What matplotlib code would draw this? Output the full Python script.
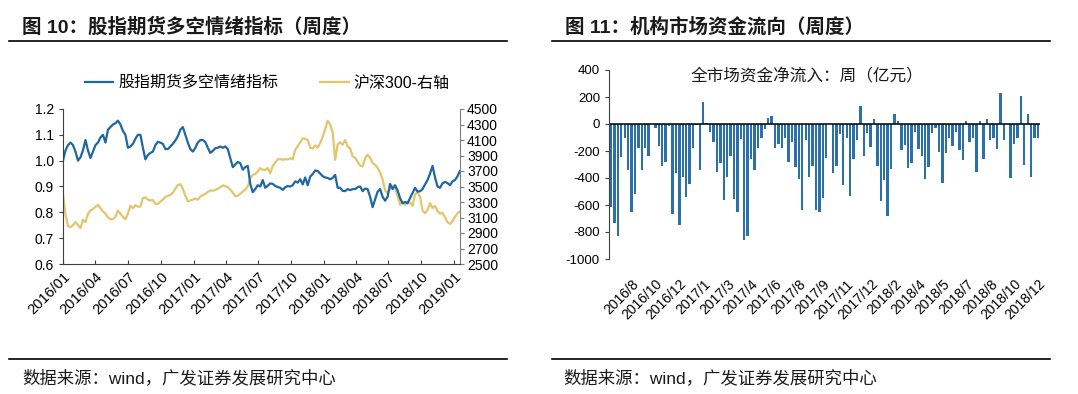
import matplotlib
matplotlib.use('Agg')
import matplotlib.pyplot as plt
import pandas as pd
import numpy as np
from matplotlib.lines import Line2D

plt.rcParams['font.family'] = ['Liberation Sans', 'Noto Sans CJK SC', 'DejaVu Sans']
plt.rcParams['axes.unicode_minus'] = False

# ---------------- data: left chart (weekly, from 2016-01-01) ----------------
sentiment = [1.0, 1.04, 1.06, 1.07, 1.06, 1.035, 1.0, 1.013, 1.04, 1.08,
             1.04, 1.01, 1.035, 1.06, 1.07, 1.09, 1.10, 1.07, 1.12, 1.13,
             1.14, 1.145, 1.155, 1.14, 1.115, 1.10, 1.05, 1.055, 1.065, 1.085,
             1.10, 1.10, 1.05, 1.005, 1.022, 1.03, 1.035, 1.06, 1.073, 1.07,
             1.065, 1.045, 1.045, 1.055, 1.065, 1.078, 1.095, 1.12, 1.13, 1.10,
             1.07, 1.045, 1.035, 1.05, 1.07, 1.08, 1.08, 1.072, 1.05, 1.03,
             1.038, 1.048, 1.05, 1.055, 1.05, 1.055, 1.045, 1.01, 0.975, 0.985,
             0.995, 0.99, 0.965, 0.975, 0.98, 0.91, 0.878, 0.89, 0.905, 0.9,
             0.925, 0.895, 0.903, 0.912, 0.91, 0.902, 0.898, 0.895, 0.887, 0.897,
             0.902, 0.9, 0.905, 0.92, 0.915, 0.928, 0.908, 0.935, 0.905, 0.938,
             0.948, 0.962, 0.96, 0.95, 0.94, 0.935, 0.933, 0.928, 0.933, 0.945,
             0.895, 0.895, 0.883, 0.882, 0.89, 0.886, 0.89, 0.89, 0.897, 0.9,
             0.882, 0.892, 0.89, 0.86, 0.82, 0.85, 0.88, 0.89, 0.86, 0.845,
             0.86, 0.91, 0.89, 0.905, 0.885, 0.855, 0.835, 0.84, 0.835, 0.855,
             0.875, 0.895, 0.88, 0.882, 0.89, 0.908, 0.925, 0.95, 0.98, 0.935,
             0.9, 0.895, 0.912, 0.918, 0.913, 0.905, 0.92, 0.925, 0.94, 0.96]

hs300 = [3400, 3130, 2990, 2975, 3000, 3040, 3000, 2965, 3070, 3040,
         3150, 3190, 3210, 3235, 3265, 3220, 3177, 3150, 3100, 3078,
         3078, 3110, 3190, 3150, 3110, 3078, 3150, 3250, 3220, 3260,
         3240, 3240, 3350, 3360, 3330, 3320, 3325, 3276, 3276, 3305,
         3330, 3365, 3380, 3390, 3420, 3470, 3520, 3530, 3470, 3380,
         3310, 3320, 3330, 3345, 3330, 3370, 3390, 3405, 3430, 3450,
         3445, 3455, 3470, 3490, 3515, 3505, 3490, 3460, 3420, 3375,
         3380, 3405, 3435, 3460, 3500, 3605, 3650, 3660, 3694, 3737,
         3715, 3715, 3737, 3672, 3765, 3810, 3850, 3855, 3845, 3853,
         3850, 3865, 3850, 3974, 4020, 4070, 4120, 4115, 4100, 4000,
         3990, 4030, 4000, 4060, 4140, 4240, 4350, 4300, 4198, 3845,
         4040, 4070, 4040, 4100, 4017, 3990, 3888, 3870, 3820, 3770,
         3758, 3865, 3910, 3870, 3802, 3780, 3740, 3680, 3590, 3450,
         3410, 3480, 3510, 3480, 3380, 3263, 3300, 3265, 3310, 3290,
         3250, 3400, 3425, 3370, 3190, 3155, 3200, 3285, 3220, 3250,
         3180, 3150, 3160, 3100, 3040, 3017, 3050, 3110, 3155, 3180]

dates = pd.date_range('2016-01-01', periods=len(sentiment), freq='7D')
left_ticks = pd.date_range('2016-01-01', '2019-01-01', freq='3MS')
left_yticks = [0.6, 0.7, 0.8, 0.9, 1.0, 1.1, 1.2]
right_yticks = list(range(2500, 4501, 200))

# ---------------- data: right chart (weekly net inflow, 亿元) ----------------
flow = [-615, -730, -830, -245, -100, -340, -655, -520, -180, -340,
        -175, -235, 0, -30, -160, -310, -285, -15, -665, -360,
        -745, -395, -540, -445, -175, -10, -340, 160, 10, -60,
        -130, -355, -290, -560, -395, -240, -555, -650, -110, -860,
        -830, -260, -340, -180, -105, -40, 45, 60, -175, -145,
        -180, -100, -285, -130, -320, -405, -635, -115, -395, -310,
        -640, -655, -550, -255, 0, -360, -310, -75, -455, -105,
        -535, -260, -120, 130, -235, -70, -170, 40, -310, -570,
        -415, -680, -335, 75, 20, -195, -155, -325, -290, -60,
        -185, -235, -405, -320, -65, -30, -205, -435, -215, -105,
        -165, -60, -195, -270, 20, -135, -100, -355, 20, -260,
        35, -115, -105, -185, 230, -115, 0, -400, -150, -105,
        210, -300, 75, -390, -105, -100]
flow_labels = ['2016/8', '2016/10', '2016/12', '2017/1', '2017/3', '2017/4',
               '2017/6', '2017/8', '2017/9', '2017/11', '2017/12', '2018/2',
               '2018/4', '2018/5', '2018/7', '2018/8', '2018/10', '2018/12']
flow_yticks = list(range(-1000, 401, 200))

BLUE = '#1f67a3'
GOLD = '#e3c56c'
BAR = '#2b70a8'
AXC = '#7f7f7f'

fig = plt.figure(figsize=(10.78, 3.94), dpi=100)

# ---------------- titles, rules, sources ----------------
fig.text(22 / 1078, 1 - 27 / 394, '图 10：股指期货多空情绪指标（周度）', fontsize=14,
         fontweight='bold', color='#1a1a1a', va='center', ha='left')
fig.text(565 / 1078, 1 - 27 / 394, '图 11：机构市场资金流向（周度）', fontsize=14,
         fontweight='bold', color='#1a1a1a', va='center', ha='left')
for x0, x1 in [(9, 507), (552, 1050)]:
    fig.add_artist(Line2D([x0 / 1078, x1 / 1078], [1 - 41 / 394] * 2, color='black', lw=1.2))
    fig.add_artist(Line2D([x0 / 1078, x1 / 1078], [1 - 359 / 394] * 2, color='black', lw=1.2))
fig.text(22 / 1078, 1 - 378 / 394, '数据来源：wind，广发证券发展研究中心', fontsize=12.5,
         color='#1a1a1a', va='center', ha='left')
fig.text(563 / 1078, 1 - 378 / 394, '数据来源：wind，广发证券发展研究中心', fontsize=12.5,
         color='#1a1a1a', va='center', ha='left')

# ---------------- left chart ----------------
ax1 = fig.add_axes([63 / 1078, 1 - 264 / 394, (460 - 63) / 1078, (264 - 109) / 394])
ax1.plot(dates, sentiment, color=BLUE, lw=1.6)
ax1.set_ylim(0.6, 1.2)
ax1.set_yticks(left_yticks)
ax1.set_yticklabels([f'{v:.1f}' for v in left_yticks], fontsize=10)
ax1.set_xlim(dates[0], dates[-1])
ax1.set_xticks(left_ticks)
ax1.set_xticklabels([d.strftime('%Y/%m') for d in left_ticks], rotation=45,
                    ha='right', rotation_mode='anchor', fontsize=10.5)
ax1.tick_params(axis='x', direction='in', length=3, pad=4, color='#404040')
ax1.tick_params(axis='y', direction='out', length=3, color='#404040')
for s in ['top', 'right']:
    ax1.spines[s].set_visible(False)
ax1.spines['left'].set_color('#404040')
ax1.spines['bottom'].set_color('#404040')

ax1b = ax1.twinx()
ax1b.plot(dates, hs300, color=GOLD, lw=1.6)
ax1b.set_ylim(2500, 4500)
ax1b.set_yticks(right_yticks)
ax1b.set_yticklabels([str(v) for v in right_yticks], fontsize=10)
ax1b.tick_params(axis='y', direction='out', length=3, color=AXC, pad=2)
for s in ['top', 'left', 'bottom']:
    ax1b.spines[s].set_visible(False)
ax1b.spines['right'].set_color(AXC)
ax1.set_zorder(ax1b.get_zorder() + 1)
ax1.patch.set_visible(False)

handles = [Line2D([], [], color=BLUE, lw=1.6), Line2D([], [], color=GOLD, lw=1.6)]
fig.legend(handles, ['股指期货多空情绪指标', '沪深300-右轴'], loc='center',
           bbox_to_anchor=(267 / 1078, 1 - 83 / 394), ncol=2, frameon=False,
           fontsize=11.5, handlelength=1.8, handletextpad=0.3, columnspacing=2.6)

# ---------------- right chart ----------------
ax2 = fig.add_axes([609 / 1078, 1 - 259 / 394, (1040 - 609) / 1078, (259 - 70) / 394])
xpos = np.arange(len(flow))
ax2.bar(xpos, flow, width=0.7, color=BAR)
ax2.axhline(0, color='black', lw=1.1)
ax2.set_xlim(-0.6, len(flow) - 0.4)
ax2.set_ylim(-1000, 400)
ax2.set_yticks(flow_yticks)
ax2.set_yticklabels([str(v) for v in flow_yticks], fontsize=9.5)
tick_pos = xpos[6::7][:len(flow_labels)]
ax2.set_xticks(tick_pos)
ax2.set_xticklabels(flow_labels, rotation=45, ha='right', rotation_mode='anchor', fontsize=10)
ax2.tick_params(axis='x', length=0, pad=13)
ax2.tick_params(axis='y', direction='out', length=3, color='#404040')
for s in ['top', 'right', 'bottom']:
    ax2.spines[s].set_visible(False)
ax2.spines['left'].set_color('#404040')
ax2.text(0.459, 0.965, '全市场资金净流入：周（亿元）', transform=ax2.transAxes,
         ha='center', va='center', fontsize=12, color='#1a1a1a')

fig.savefig('out.png', dpi=100)
